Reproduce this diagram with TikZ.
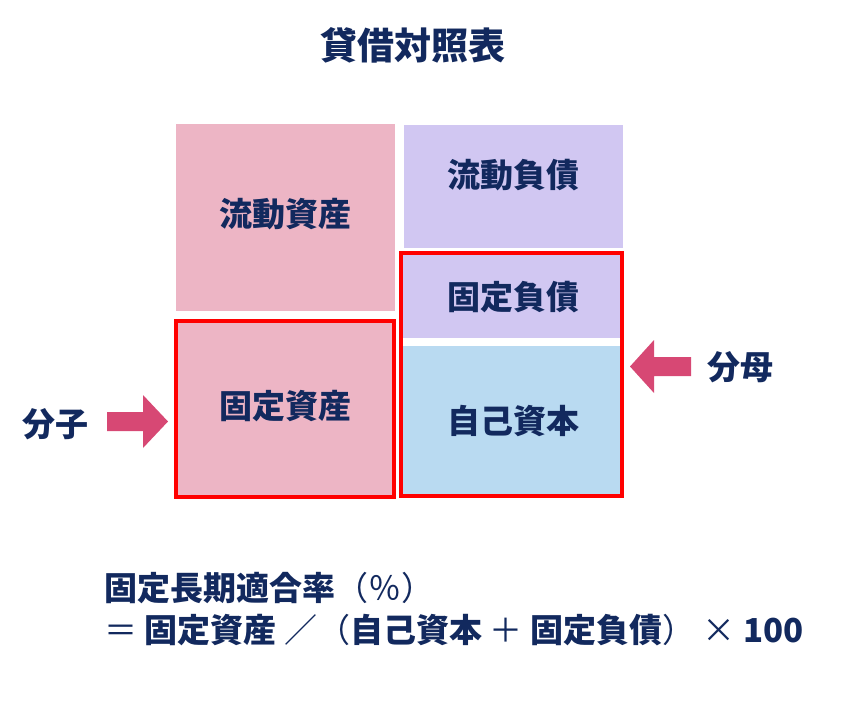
\documentclass[tikz,border=0pt]{standalone}
\usepackage{fontspec}
\setmainfont{Noto Sans CJK JP}
\definecolor{navy}{HTML}{12295E}
\definecolor{pinkc}{HTML}{EDB5C5}
\definecolor{purplec}{HTML}{D1C7F2}
\definecolor{bluec}{HTML}{B9DAF1}
\definecolor{arrowc}{HTML}{D74874}
\newcommand\symreg[1]{{\mdseries #1}}
\begin{document}
\begin{tikzpicture}[x=1pt,y=-1pt,
  box/.style={inner sep=0pt, outer sep=0pt, draw=none},
  lbl/.style={inner sep=0pt, text=navy, font=\fontsize{33}{38}\selectfont\bfseries},
  redframe/.style={draw=red, line width=3.6pt},
  arr/.style={fill=arrowc, draw=none}]
\useasboundingbox (0,0) rectangle (841,709);
% title
\node[lbl, font=\fontsize{37}{42}\selectfont\bfseries] (title) at (413,45) {貸借対照表};
% assets
\node[box, fill=pinkc, minimum width=219pt, minimum height=187pt] (ca) at (285.5,217.5) {};
\node[box, fill=pinkc, minimum width=218pt, minimum height=176pt, redframe] (fa) at (285,409) {};
% liabilities / equity
\node[box, fill=purplec, minimum width=219pt, minimum height=123pt] (cl) at (513.5,186.5) {};
\node[box, fill=purplec, minimum width=217pt, minimum height=83pt] (fl) at (511.5,296.5) {};
\node[box, fill=bluec, minimum width=217pt, minimum height=148pt] (eq) at (511.5,420) {};
\coordinate (rf1) at (401,253);
\coordinate (rf2) at (622,496);
\draw[redframe] (rf1) rectangle (rf2);
% labels
\node[lbl] (tca) at (285.5,214) {流動資産};
\node[lbl] (tfa) at (285,406) {固定資産};
\node[lbl] (tcl) at (513,175) {流動負債};
\node[lbl] (tfl) at (513,297) {固定負債};
\node[lbl] (teq) at (513,421) {自己資本};
% arrows
\node[lbl] (num) at (56,424) {分子};
\node[lbl] (den) at (740,367.5) {分母};
\fill[arr] (107,412) -- (143,412) -- (143,395) -- (168,421.5) -- (143,448) -- (143,431) -- (107,431) -- cycle;
\fill[arr] (691,357) -- (654,357) -- (654,340) -- (630,366.5) -- (654,393) -- (654,376) -- (691,376) -- cycle;
% formula
\node[lbl, anchor=west] (f1) at (104,588) {固定長期適合率\symreg{（％）}};
\node[lbl, anchor=west] (f2) at (104,630) {\symreg{＝} 固定資産 \symreg{／（}自己資本 \symreg{＋} 固定負債\symreg{） ×} 100};
\end{tikzpicture}
\end{document}
